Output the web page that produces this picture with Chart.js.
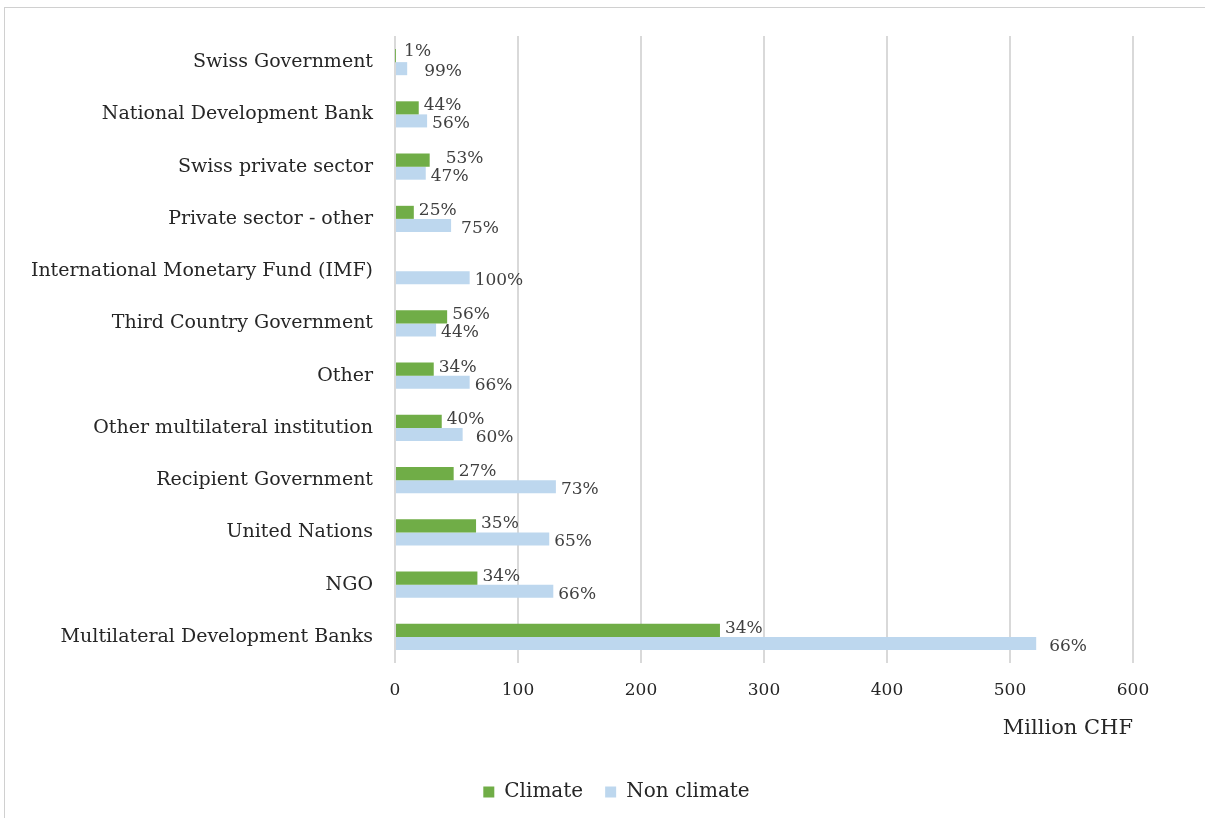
<!DOCTYPE html>
<html>
<head>
<meta charset="utf-8">
<script src="https://cdn.jsdelivr.net/npm/chart.js@4.4.1/dist/chart.umd.min.js"></script>
<style>
  html, body { margin: 0; padding: 0; background: #ffffff; }
  #frame { position: absolute; left: 4px; top: 7px; width: 1210px; height: 820px; border: 1px solid #d0d0d0; box-sizing: border-box; }
  #wrap { position: absolute; left: 0; top: 0; width: 1205px; height: 818px; }
</style>
</head>
<body>
<div id="frame"></div>
<div id="wrap"><canvas id="c" width="1205" height="818"></canvas></div>
<script>
const categories = [
  "Swiss Government",
  "National Development Bank",
  "Swiss private sector",
  "Private sector - other",
  "International Monetary Fund (IMF)",
  "Third Country Government",
  "Other",
  "Other multilateral institution",
  "Recipient Government",
  "United Nations",
  "NGO",
  "Multilateral Development Banks"
];
const climateValues    = [0.1, 19.3, 28.2, 15.3, 0, 42.4, 31.5, 38, 47.7, 65.9, 67, 264.2];
const nonClimateValues = [9.9, 26.1, 25, 45.6, 60.7, 33.4, 60.7, 55, 130.8, 125.4, 128.7, 521.3];
const climatePct    = ["1%", "44%", "53%", "25%", "", "56%", "34%", "40%", "27%", "35%", "34%", "34%"];
const nonClimatePct = ["99%", "56%", "47%", "75%", "100%", "44%", "66%", "60%", "73%", "65%", "66%", "66%"];
const xTicks = [0, 100, 200, 300, 400, 500, 600];

const SERIF = "'DejaVu Serif', 'Liberation Serif', serif";

const pctLabels = {
  id: 'pctLabels',
  afterDatasetsDraw(chart, args, opts) {
    const ctx = chart.ctx;
    ctx.save();
    ctx.font = opts.font;
    ctx.fillStyle = opts.color;
    ctx.textAlign = 'left';
    ctx.textBaseline = 'middle';
    chart.data.datasets.forEach((ds, di) => {
      const meta = chart.getDatasetMeta(di);
      meta.data.forEach((bar, i) => {
        const txt = ds.pctLabels[i];
        if (!txt) return;
        const key = di + ':' + i;
        const nd = opts.nudge[key] || [0, 0];
        const dy = di === 0 ? opts.dyClimate : opts.dyNon;
        ctx.fillText(txt, bar.x + opts.gap + nd[0], bar.y + dy + nd[1]);
      });
    });
    ctx.restore();
  }
};

// shift the bottom legend horizontally so it sits under the plot like the reference
const legendShift = {
  id: 'legendShift',
  afterLayout(chart, args, opts) {
    const lg = chart.legend;
    if (!lg) return;
    lg.left += opts.dx;
    lg.right += opts.dx;
    if (lg.legendHitBoxes) lg.legendHitBoxes.forEach(b => { b.left += opts.dx; });
  }
};

new Chart(document.getElementById('c'), {
  type: 'bar',
  data: {
    labels: categories,
    datasets: [
      { label: 'Climate', data: climateValues, pctLabels: climatePct,
        backgroundColor: '#70ad47', categoryPercentage: 0.5, barPercentage: 1.0 },
      { label: 'Non climate', data: nonClimateValues, pctLabels: nonClimatePct,
        backgroundColor: '#bdd7ee', categoryPercentage: 0.5, barPercentage: 1.0 }
    ]
  },
  options: {
    indexAxis: 'y',
    responsive: false,
    animation: false,
    layout: { padding: { top: 36, right: 72, bottom: 6, left: 0 } },
    scales: {
      x: {
        min: 0, max: 600,
        afterBuildTicks(scale) { scale.ticks = xTicks.map(v => ({ value: v })); },
        grid: { color: '#d9d9d9', lineWidth: 2, drawTicks: false },
        border: { display: false },
        ticks: { color: '#262626', font: { family: SERIF, size: 17 }, padding: 17 },
        title: { display: true, text: 'Million CHF', align: 'end', color: '#262626',
                 font: { family: SERIF, size: 21 }, padding: { top: 8, bottom: 19 } },
        afterFit(scale) { scale.height = 97; }
      },
      y: {
        grid: { display: false },
        border: { display: false },
        ticks: { color: '#262626', font: { family: SERIF, size: 19 }, padding: 14 },
        afterFit(scale) { scale.width = 395; }
      }
    },
    plugins: {
      legend: {
        position: 'bottom',
        labels: { color: '#262626', font: { family: SERIF, size: 20 }, boxWidth: 11, boxHeight: 11, padding: 22 }
      },
      legendShift: { dx: 50 },
      tooltip: { enabled: false },
      pctLabels: {
        font: "17px 'DejaVu Serif', 'Liberation Serif', serif",
        color: '#404040',
        gap: 5,
        dyClimate: -2,
        dyNon: 3,
        nudge: { '0:0': [4, -2], '1:0': [12, 0], '0:2': [11, 0], '1:3': [5, 0], '1:7': [8, 0], '1:11': [8, 0] }
      }
    }
  },
  plugins: [pctLabels, legendShift]
});
</script>
</body>
</html>
